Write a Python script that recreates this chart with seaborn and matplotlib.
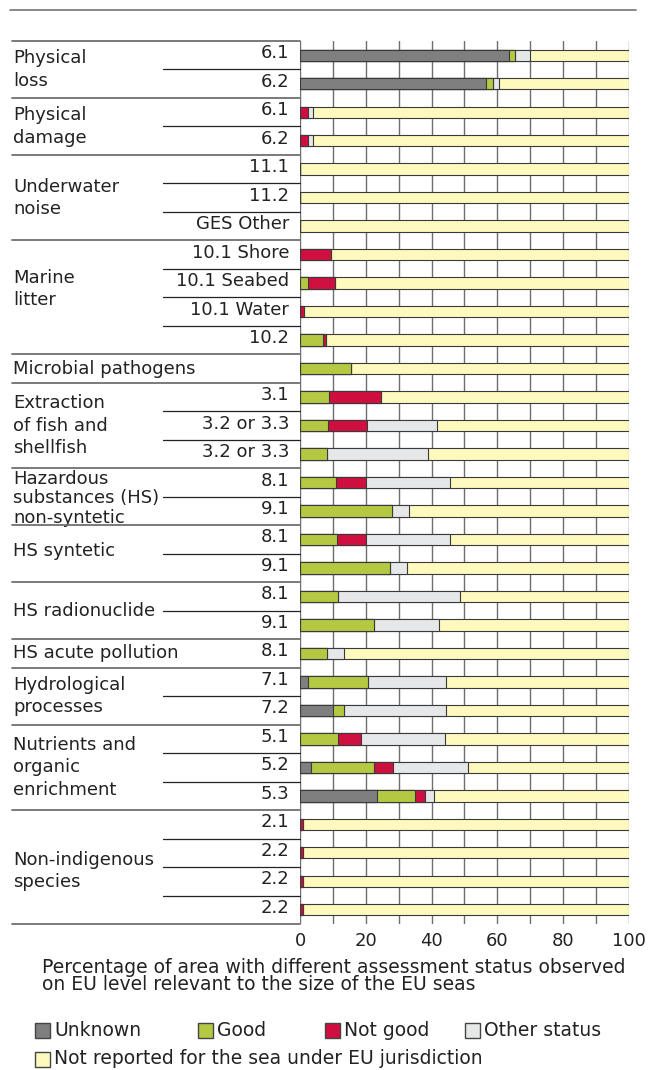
import matplotlib
matplotlib.use("Agg")
import matplotlib.pyplot as plt
import matplotlib.transforms as mtransforms
from matplotlib.lines import Line2D
from matplotlib.patches import Rectangle
import numpy as np
import pandas as pd
import seaborn as sns

# ---------------- data ----------------
group_names = ["Physical\nloss", "Physical\ndamage", "Underwater\nnoise", "Marine\nlitter",
               "Microbial pathogens", "Extraction\nof fish and\nshellfish",
               "Hazardous\nsubstances (HS)\nnon-syntetic", "HS syntetic", "HS radionuclide",
               "HS acute pollution", "Hydrological\nprocesses", "Nutrients and\norganic\nenrichment",
               "Non-indigenous\nspecies"]
group_sizes = [2, 2, 3, 4, 1, 3, 2, 2, 2, 1, 2, 3, 4]

sub_labels = ["6.1", "6.2", "6.1", "6.2", "11.1", "11.2", "GES Other",
              "10.1 Shore", "10.1 Seabed", "10.1 Water", "10.2", "",
              "3.1", "3.2 or 3.3", "3.2 or 3.3", "8.1", "9.1", "8.1", "9.1",
              "8.1", "9.1", "8.1", "7.1", "7.2", "5.1", "5.2", "5.3",
              "2.1", "2.2", "2.2", "2.2"]

unknown = [63.4, 56.4, 0, 0, 0, 0, 0, 0, 0, 0, 0, 0, 0, 0, 0, 0, 0, 0, 0, 0, 0, 0,
           2.3, 9.9, 0, 3.3, 23.3, 0, 0, 0, 0]
good = [1.9, 2.3, 0, 0, 0, 0, 0, 0, 2.3, 0, 7.0, 15.4, 8.7, 8.5, 8.1, 10.8, 28.0,
        11.2, 27.4, 11.5, 22.4, 8.3, 18.3, 3.6, 11.5, 19.1, 11.8, 0, 0, 0, 0]
not_good = [0, 0, 2.5, 2.5, 0, 0, 0, 9.3, 8.4, 1.3, 1.0, 0, 15.9, 12.0, 0, 9.3, 0,
            8.8, 0, 0, 0, 0, 0, 0, 7.0, 5.9, 2.8, 1.0, 1.0, 1.0, 1.0]
other = [4.7, 1.8, 1.4, 1.4, 0, 0, 0, 0, 0, 0, 0, 0, 0, 21.2, 30.9, 25.6, 5.1,
         25.7, 5.0, 37.2, 20.0, 5.2, 23.8, 30.9, 25.6, 22.9, 2.9, 0, 0, 0, 0]
not_reported = [30.0, 39.5, 96.1, 96.1, 100, 100, 100, 90.7, 89.3, 98.7, 92.0, 84.6,
                75.4, 58.3, 61.0, 54.3, 66.9, 54.3, 67.6, 51.3, 57.6, 86.5, 55.6, 55.6,
                55.9, 48.8, 59.2, 99.0, 99.0, 99.0, 99.0]

status_names = ["Unknown", "Good", "Not good", "Other status",
                "Not reported for the sea under EU jurisdiction"]
status_colors = ["#7f7f80", "#b4c842", "#cf0f3f", "#e6e7e8", "#fef9bd"]

x_ticks = [0, 20, 40, 60, 80, 100]
x_label = ("Percentage of area with different assessment status observed\n"
           "on EU level relevant to the size of the EU seas")

# ---------------- figure ----------------
sns.set_style("white")
plt.rcParams["font.family"] = ["DejaVu Sans"]
FS = 13
FS2 = 13.5
TXT = "#222222"
W, H = 656, 1070
fig = plt.figure(figsize=(W / 100, H / 100), dpi=100)
fx = lambda px: px / W
fy = lambda py: 1 - py / H

ax_top, ax_bot = 41, 924
ax = fig.add_axes([fx(300), fy(ax_bot), fx(629) - fx(300), fy(ax_top) - fy(ax_bot)])

n = len(sub_labels)
row_ids = [f"r{i}" for i in range(n)]
series = [unknown, good, not_good, other, not_reported]
cum = np.cumsum(np.array(series, dtype=float), axis=0)
df = pd.DataFrame({"row": row_ids})
for k in range(5):
    df[f"c{k}"] = cum[k]

edge = "#3a3a3a"
for k in range(4, -1, -1):
    sns.barplot(data=df, x=f"c{k}", y="row", order=row_ids, orient="h",
                color=status_colors[k], saturation=1, width=0.4,
                edgecolor=edge, linewidth=0.8, errorbar=None, ax=ax, zorder=3)

ax.set_xlim(0, 100)
ax.set_ylim(n - 0.5, -0.5)
ax.set_xlabel("")
ax.set_ylabel("")
ax.set_yticks([])
ax.set_xticks(x_ticks)
ax.set_xticks([10, 30, 50, 70, 90], minor=True)
ax.set_xticklabels([str(t) for t in x_ticks], fontsize=FS, color=TXT)
ax.tick_params(axis="x", which="both", length=0, pad=6)
ax.grid(axis="x", which="both", color="#6e6e6e", linewidth=1.0)
ax.set_axisbelow(True)
for s in ax.spines.values():
    s.set_visible(False)

blend = mtransforms.blended_transform_factory(fig.transFigure, ax.transData)
figtr = fig.transFigure

# sub labels
for i, lab in enumerate(sub_labels):
    if lab:
        ax.text(fx(289), i - 0.07, lab, transform=blend, ha="right", va="center",
                fontsize=FS, color=TXT)

# group labels and lines
label_shift = {3: -0.28, 6: 0.05, 7: -0.1, 12: 0.15}
label_spacing = {6: 1.1}
start = 0
line_grp = "#707070"
for gi, (name, size) in enumerate(zip(group_names, group_sizes)):
    center = start + (size - 1) / 2 + label_shift.get(gi, 0)
    ax.text(fx(13), center, name, transform=blend, ha="left", va="center",
            fontsize=FS, color=TXT, linespacing=label_spacing.get(gi, 1.3))
    fig.add_artist(Line2D([fx(12), fx(300)], [start - 0.5, start - 0.5],
                          transform=blend, color=line_grp, linewidth=1.3))
    for j in range(1, size):
        yy = start + j - 0.5
        fig.add_artist(Line2D([fx(163), fx(300)], [yy, yy], transform=blend,
                              color="#222222", linewidth=0.9))
    start += size
fig.add_artist(Line2D([fx(12), fx(300)], [n - 0.5, n - 0.5], transform=blend,
                      color=line_grp, linewidth=1.3))

# top rule
fig.add_artist(Line2D([fx(10), fx(636)], [fy(10), fy(10)], transform=figtr,
                      color="#808080", linewidth=1.3))

# axis description
fig.text(fx(42), fy(976), x_label, ha="left", va="center", fontsize=FS2,
         color=TXT, linespacing=0.82)

# legend
leg_pos = [(35, 1030), (198, 1030), (325, 1030), (465, 1030), (35, 1059)]
sq = 15
for (px, py), name, col in zip(leg_pos, status_names, status_colors):
    fig.add_artist(Rectangle((fx(px), fy(py + sq / 2)), sq / W, sq / H,
                             transform=figtr, facecolor=col, edgecolor="#444444",
                             linewidth=1.0))
    fig.text(fx(px + sq + 4), fy(py), name, ha="left", va="center",
             fontsize=FS2, color=TXT)

fig.savefig("out.png", dpi=100)
